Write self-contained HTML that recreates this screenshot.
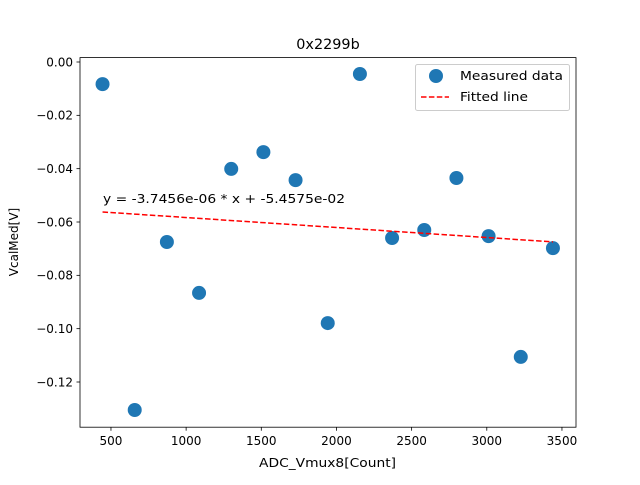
<!DOCTYPE html>
<html><head><meta charset="utf-8"><style>
body{margin:0;background:#fff}
svg{font-family:"DejaVu Sans","Liberation Sans",sans-serif}
</style></head><body>
<svg id="chart" width="640" height="480" viewBox="0 0 640 480">
<rect width="640" height="480" fill="#fff"/>
<text x="328" y="49" font-size="14.4" text-anchor="middle">0x2299b</text>
<g id="plot"></g>
<rect x="80" y="57.6" width="496" height="369.6" fill="none" stroke="#000" stroke-width="0.8"/>
<text x="259" y="467" font-size="12" textLength="137" lengthAdjust="spacingAndGlyphs">ADC_Vmux8[Count]</text>
<text transform="translate(18,242) rotate(-90)" font-size="12" text-anchor="middle">VcalMed[V]</text>
<text x="103" y="203" font-size="12.5" textLength="242" lengthAdjust="spacingAndGlyphs">y = -3.7456e-06 * x + -5.4575e-02</text>
<g>
<rect x="415.5" y="64.5" width="154" height="46" rx="2" fill="#fff" fill-opacity="0.8" stroke="#ccc"/>
<circle cx="436" cy="76" r="7" fill="#1f77b4"/>
<text x="460" y="80" font-size="12.5" textLength="103" lengthAdjust="spacingAndGlyphs">Measured data</text>
<line x1="421" y1="97" x2="449" y2="97" stroke="red" stroke-width="1.5" stroke-dasharray="5.5,2.4"/>
<text x="460" y="101" font-size="12.5" textLength="68" lengthAdjust="spacingAndGlyphs">Fitted line</text>
</g>
</svg>
<script>
const xValues=[444,658,872,1086,1300,1514,1728,1942,2156,2370,2584,2798,3012,3226,3440];
const yValues=[-0.0083,-0.1305,-0.0675,-0.0866,-0.0401,-0.0338,-0.0443,-0.0979,-0.0045,-0.066,-0.063,-0.0435,-0.0653,-0.1106,-0.0698];
const fitSlope=-3.7456e-06;
const fitIntercept=-0.054575;
const xTicks=[500,1000,1500,2000,2500,3000,3500];
const yTicks=[0,-0.02,-0.04,-0.06,-0.08,-0.10,-0.12];
const yTickLabels=["0.00","\u22120.02","\u22120.04","\u22120.06","\u22120.08","\u22120.10","\u22120.12"];
const NS="http://www.w3.org/2000/svg";
function sx(v){return 35.8+v*0.15033;}
function sy(v){return 62-v*2666.7;}
const g=document.getElementById('plot');
function mk(t,a){const e=document.createElementNS(NS,t);for(const k in a)e.setAttribute(k,a[k]);g.appendChild(e);return e;}
xTicks.forEach(t=>{
 const l=mk('line',{x1:sx(t),x2:sx(t),y1:427.2,y2:430.7,stroke:'#000','stroke-width':0.8});
 
 
 const tx=mk('text',{x:sx(t),y:445,'font-size':12,'text-anchor':'middle'});tx.textContent=t;
 
 
});
yTicks.forEach((t,i)=>{
 const l=mk('line',{x1:76.5,x2:80,y1:sy(t),y2:sy(t),stroke:'#000','stroke-width':0.8});
 
 
 const tx=mk('text',{x:73,y:sy(t)+4.3,'font-size':12,'text-anchor':'end'});tx.textContent=yTickLabels[i];
 
 
});
xValues.forEach((x,i)=>{
 const c=mk('circle',{cx:sx(x),cy:sy(yValues[i]),r:7,fill:'#1f77b4'});
 
 
});
const x0=xValues[0],x1=xValues[xValues.length-1];
const fl=mk('line',{x1:sx(x0),y1:sy(fitSlope*x0+fitIntercept),x2:sx(x1),y2:sy(fitSlope*x1+fitIntercept),stroke:'red','stroke-width':1.5,'stroke-dasharray':'5.5,2.4'});


</script>
</body></html>
